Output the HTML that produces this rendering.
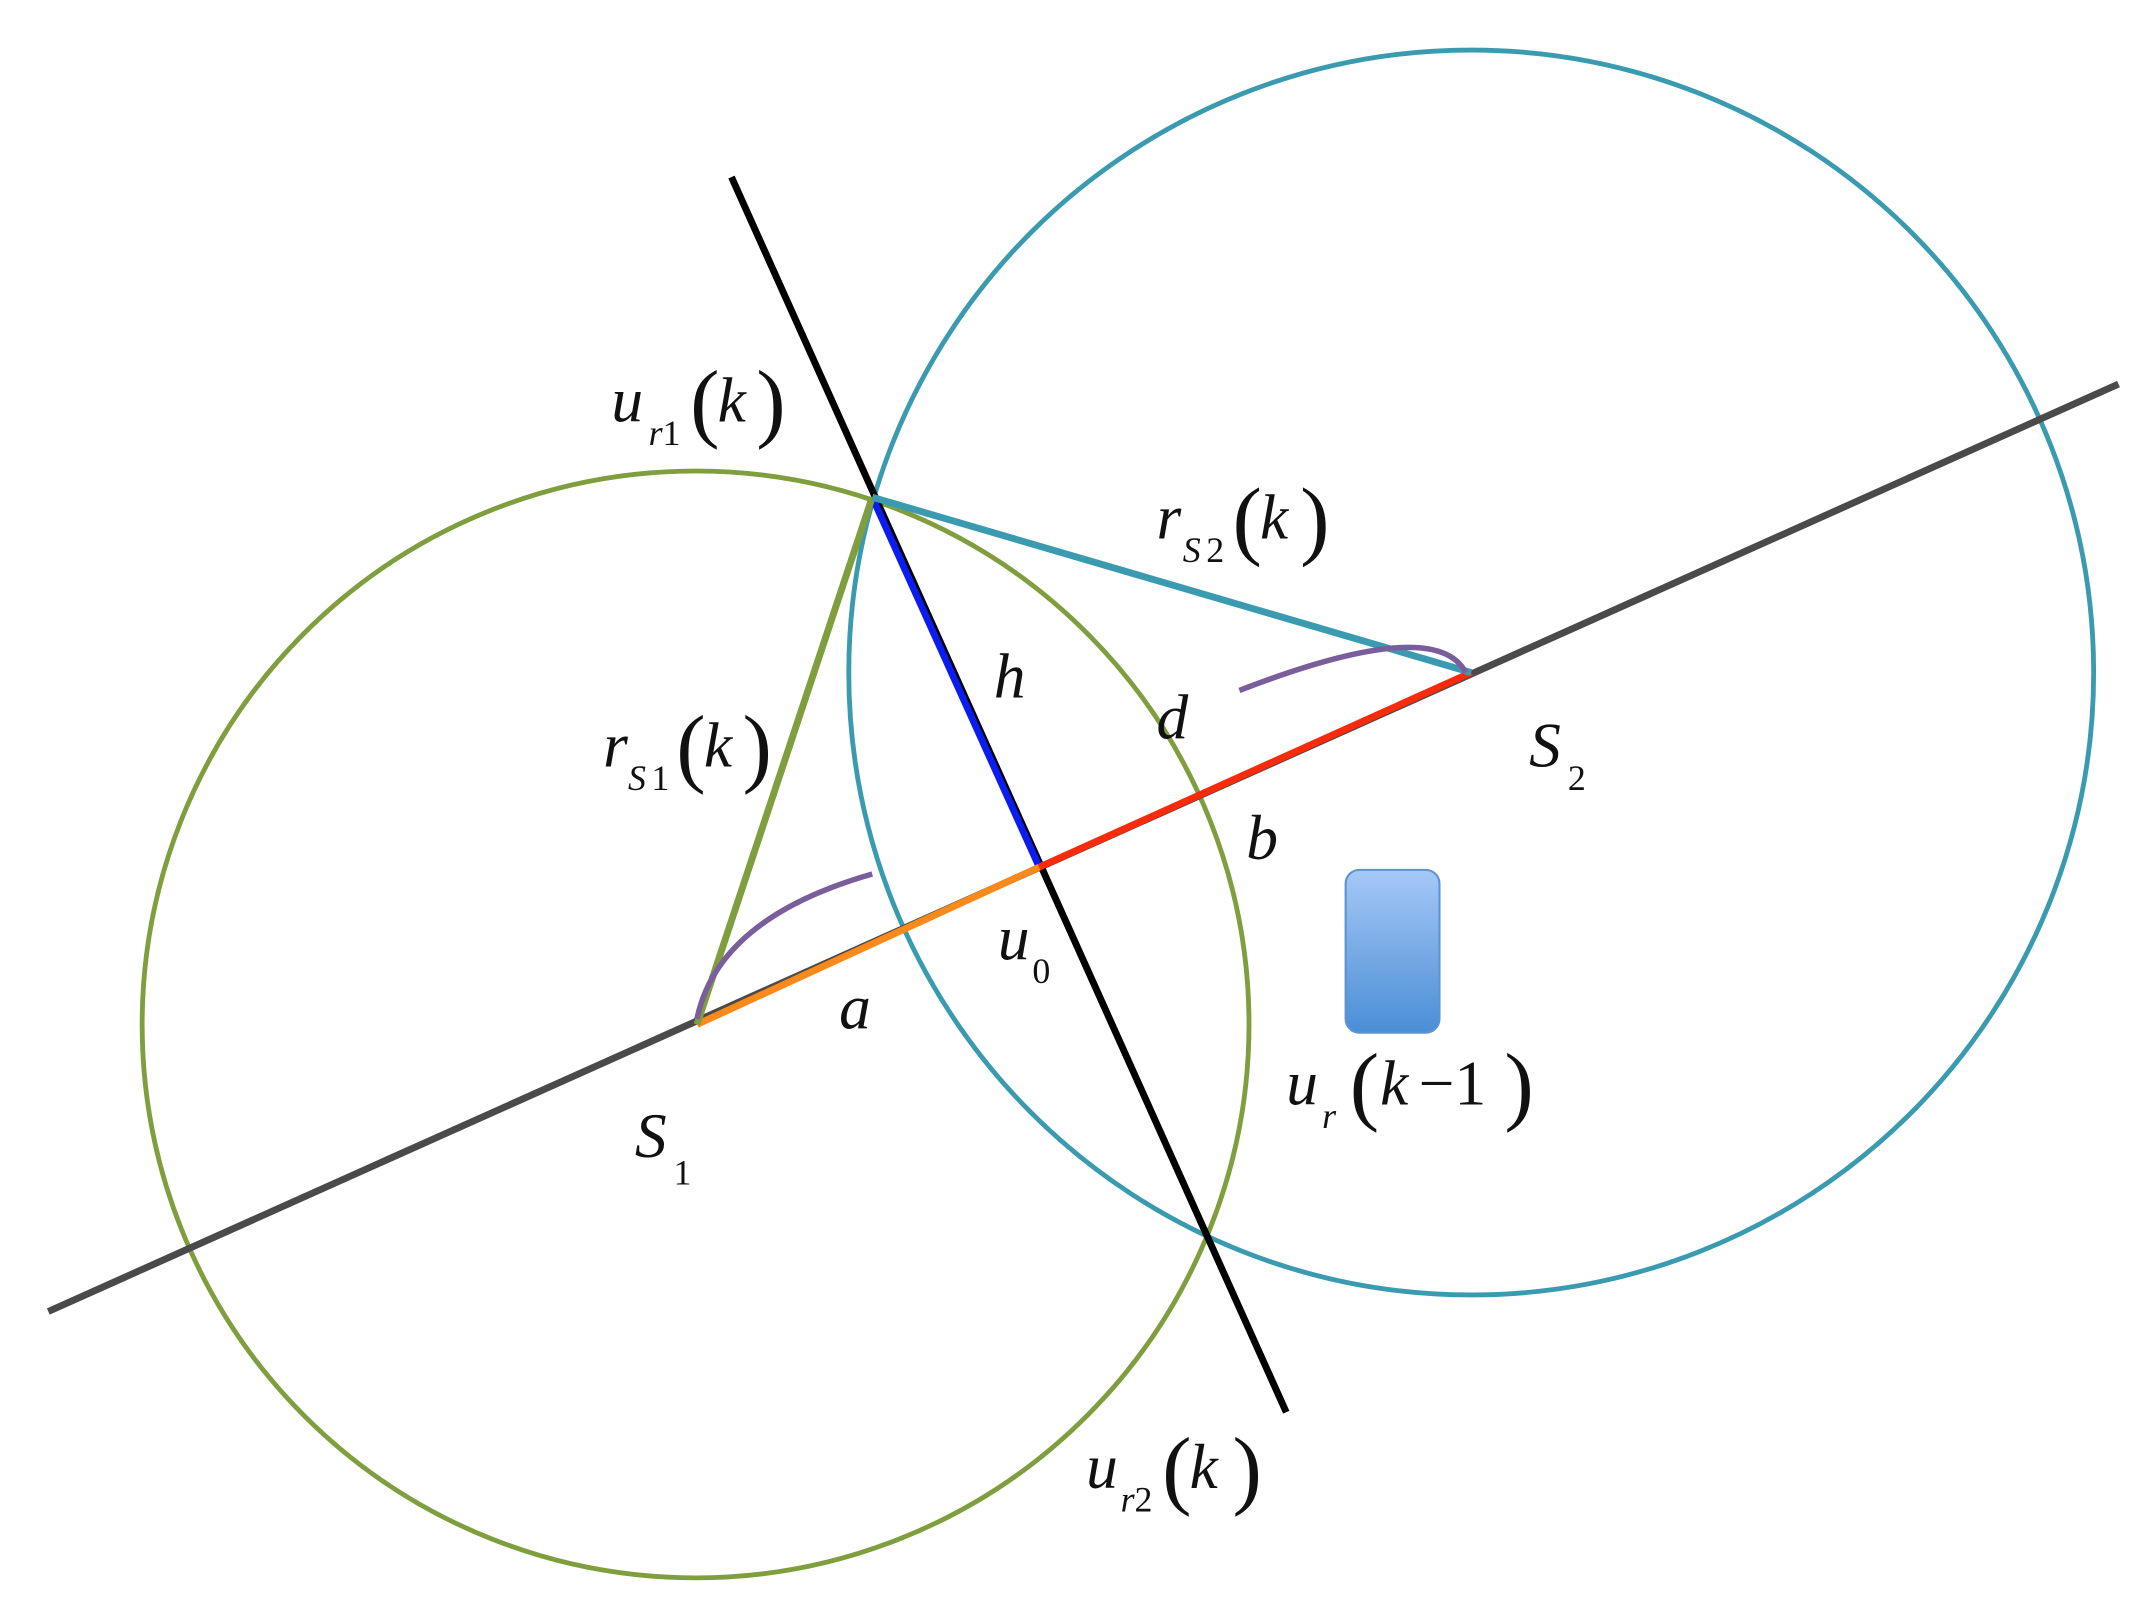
<!DOCTYPE html>
<html><head><meta charset="utf-8"><style>
html,body{margin:0;padding:0;background:#fff;}
svg{display:block;}
text{font-family:"Liberation Serif","DejaVu Serif","Times New Roman",serif;font-style:italic;fill:#111;}
.n{font-style:normal;}
</style></head><body>
<svg width="2153" height="1610" viewBox="0 0 1560 1166" xmlns="http://www.w3.org/2000/svg">
<defs>
<linearGradient id="g" x1="0" y1="0" x2="0" y2="1">
<stop offset="0" stop-color="#a6c8f6"/><stop offset="1" stop-color="#4a8ed6"/>
</linearGradient>
</defs>
<circle cx="504" cy="742" r="401" fill="none" stroke="#7f9e3e" stroke-width="3.5"/>
<circle cx="1066" cy="487" r="451" fill="none" stroke="#3a9bb0" stroke-width="3.5"/>
<line x1="35" y1="950" x2="1535" y2="278" stroke="#4a4a4a" stroke-width="5"/>
<line x1="530" y1="128" x2="932" y2="1023" stroke="#000" stroke-width="5"/>
<line x1="632" y1="360" x2="753" y2="628" stroke="#0a1cf0" stroke-width="5"/>
<line x1="505" y1="742" x2="753" y2="628" stroke="#fb8a1a" stroke-width="5"/>
<line x1="753" y1="628" x2="1066" y2="487" stroke="#fb2a0a" stroke-width="5"/>
<line x1="505" y1="742" x2="632" y2="360" stroke="#7f9e3e" stroke-width="5"/>
<line x1="632" y1="360" x2="1066" y2="487" stroke="#3a9bb0" stroke-width="5"/>
<path d="M505 738 Q520 665 632 633" fill="none" stroke="#7a5e9c" stroke-width="4"/>
<path d="M898 500 Q1040 445 1062 487" fill="none" stroke="#7a5e9c" stroke-width="4"/>
<rect x="975" y="630" width="68" height="118" rx="10" fill="url(#g)" stroke="#5b94d0" stroke-width="1.5"/>
<g font-size="46">
<text x="443" y="305">u</text><text x="470" y="322" font-size="26">r</text><text x="480" y="322" font-size="26" class="n">1</text>
<text x="500" y="312" font-size="64" class="n">(</text><text x="520" y="305">k</text><text x="548" y="312" font-size="64" class="n">)</text>

<text x="838" y="390">r</text><text x="857" y="407" font-size="26">S</text><text x="874" y="407" font-size="26" class="n">2</text>
<text x="893" y="397" font-size="64" class="n">(</text><text x="913" y="390">k</text><text x="942" y="397" font-size="64" class="n">)</text>

<text x="720" y="505">h</text>
<text x="838" y="535">d</text>

<text x="437" y="555">r</text><text x="455" y="572" font-size="26">S</text><text x="472" y="572" font-size="26" class="n">1</text>
<text x="490" y="562" font-size="64" class="n">(</text><text x="510" y="555">k</text><text x="538" y="562" font-size="64" class="n">)</text>

<text x="1108" y="555">S</text><text x="1136" y="572" font-size="26" class="n">2</text>
<text x="903" y="622">b</text>
<text x="723" y="695">u</text><text x="748" y="712" font-size="26" class="n">0</text>
<text x="608" y="745">a</text>

<text x="932" y="800">u</text><text x="958" y="817" font-size="26">r</text>
<text x="978" y="807" font-size="64" class="n">(</text><text x="1000" y="800">k</text><text x="1028" y="800" class="n">−1</text><text x="1090" y="807" font-size="64" class="n">)</text>

<text x="460" y="838">S</text><text x="488" y="858" font-size="26" class="n">1</text>

<text x="787" y="1078">u</text><text x="812" y="1095" font-size="26">r</text><text x="822" y="1095" font-size="26" class="n">2</text>
<text x="842" y="1085" font-size="64" class="n">(</text><text x="862" y="1078">k</text><text x="893" y="1085" font-size="64" class="n">)</text>
</g>
</svg>
</body></html>
